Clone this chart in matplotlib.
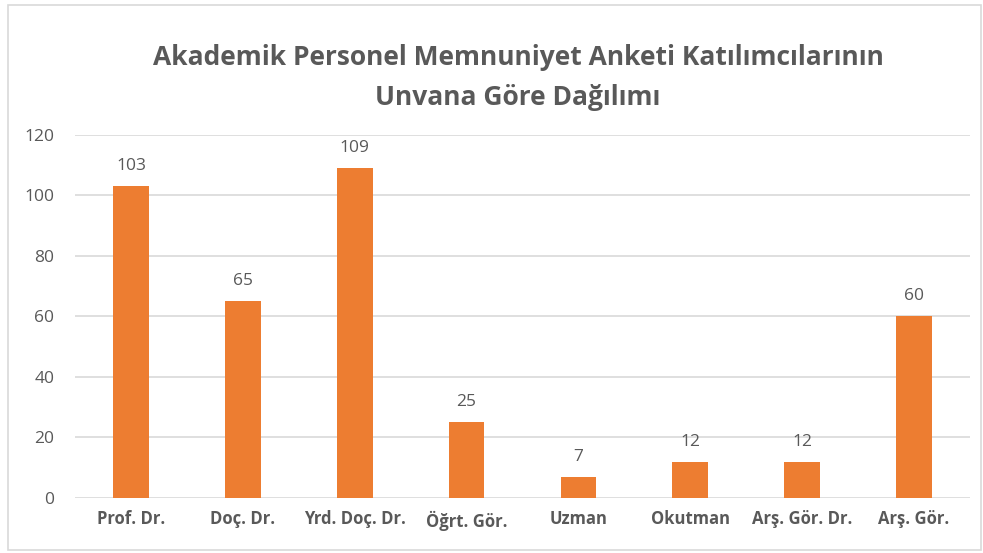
import matplotlib.pyplot as plt
from matplotlib.patches import Rectangle

# veriler
unvanlar = ["Prof. Dr.", "Doç. Dr.", "Yrd. Doç. Dr.", "Öğrt. Gör.", "Uzman",
            "Okutman", "Arş. Gör. Dr.", "Arş. Gör."]
katilimci = [103, 65, 109, 25, 7, 12, 12, 60]
y_ticks = [0, 20, 40, 60, 80, 100, 120]

plt.rcParams['font.family'] = ['Open Sans', 'DejaVu Sans']
GRI = '#595959'

fig = plt.figure(figsize=(9.83, 5.53), dpi=100)
fig.patches.append(Rectangle((0.008, 0.006), 0.99, 0.985, transform=fig.transFigure,
                             fill=False, edgecolor='#D9D9D9', linewidth=1.2))

ax = fig.add_axes([0.0763, 0.0995, 0.9105, 0.6564])
x = list(range(len(unvanlar)))
ax.bar(x, katilimci, width=0.32, color='#ED7D31', zorder=3)

for xi, v in zip(x, katilimci):
    ax.text(xi, v + 4, str(v), ha='center', va='bottom', fontsize=12.5, color=GRI)

ax.set_xlim(-0.5, len(unvanlar) - 0.5)
ax.set_ylim(0, 120)
ax.set_yticks(y_ticks)
ax.set_xticks(x)
ax.set_xticklabels(unvanlar, fontsize=12, fontweight='bold', color=GRI)
ax.tick_params(axis='y', labelsize=12.5, labelcolor=GRI, length=0, pad=15)
ax.tick_params(axis='x', length=0, pad=9)
ax.grid(axis='y', color='#D9D9D9', linewidth=1.2, zorder=0)
for s in ax.spines.values():
    s.set_visible(False)

fig.text(0.527, 0.860, "Akademik Personel Memnuniyet Anketi Katılımcılarının\nUnvana Göre Dağılımı",
         ha='center', va='center', fontsize=19, fontweight='bold', color=GRI,
         linespacing=1.65)

fig.savefig("out.png", dpi=100)
